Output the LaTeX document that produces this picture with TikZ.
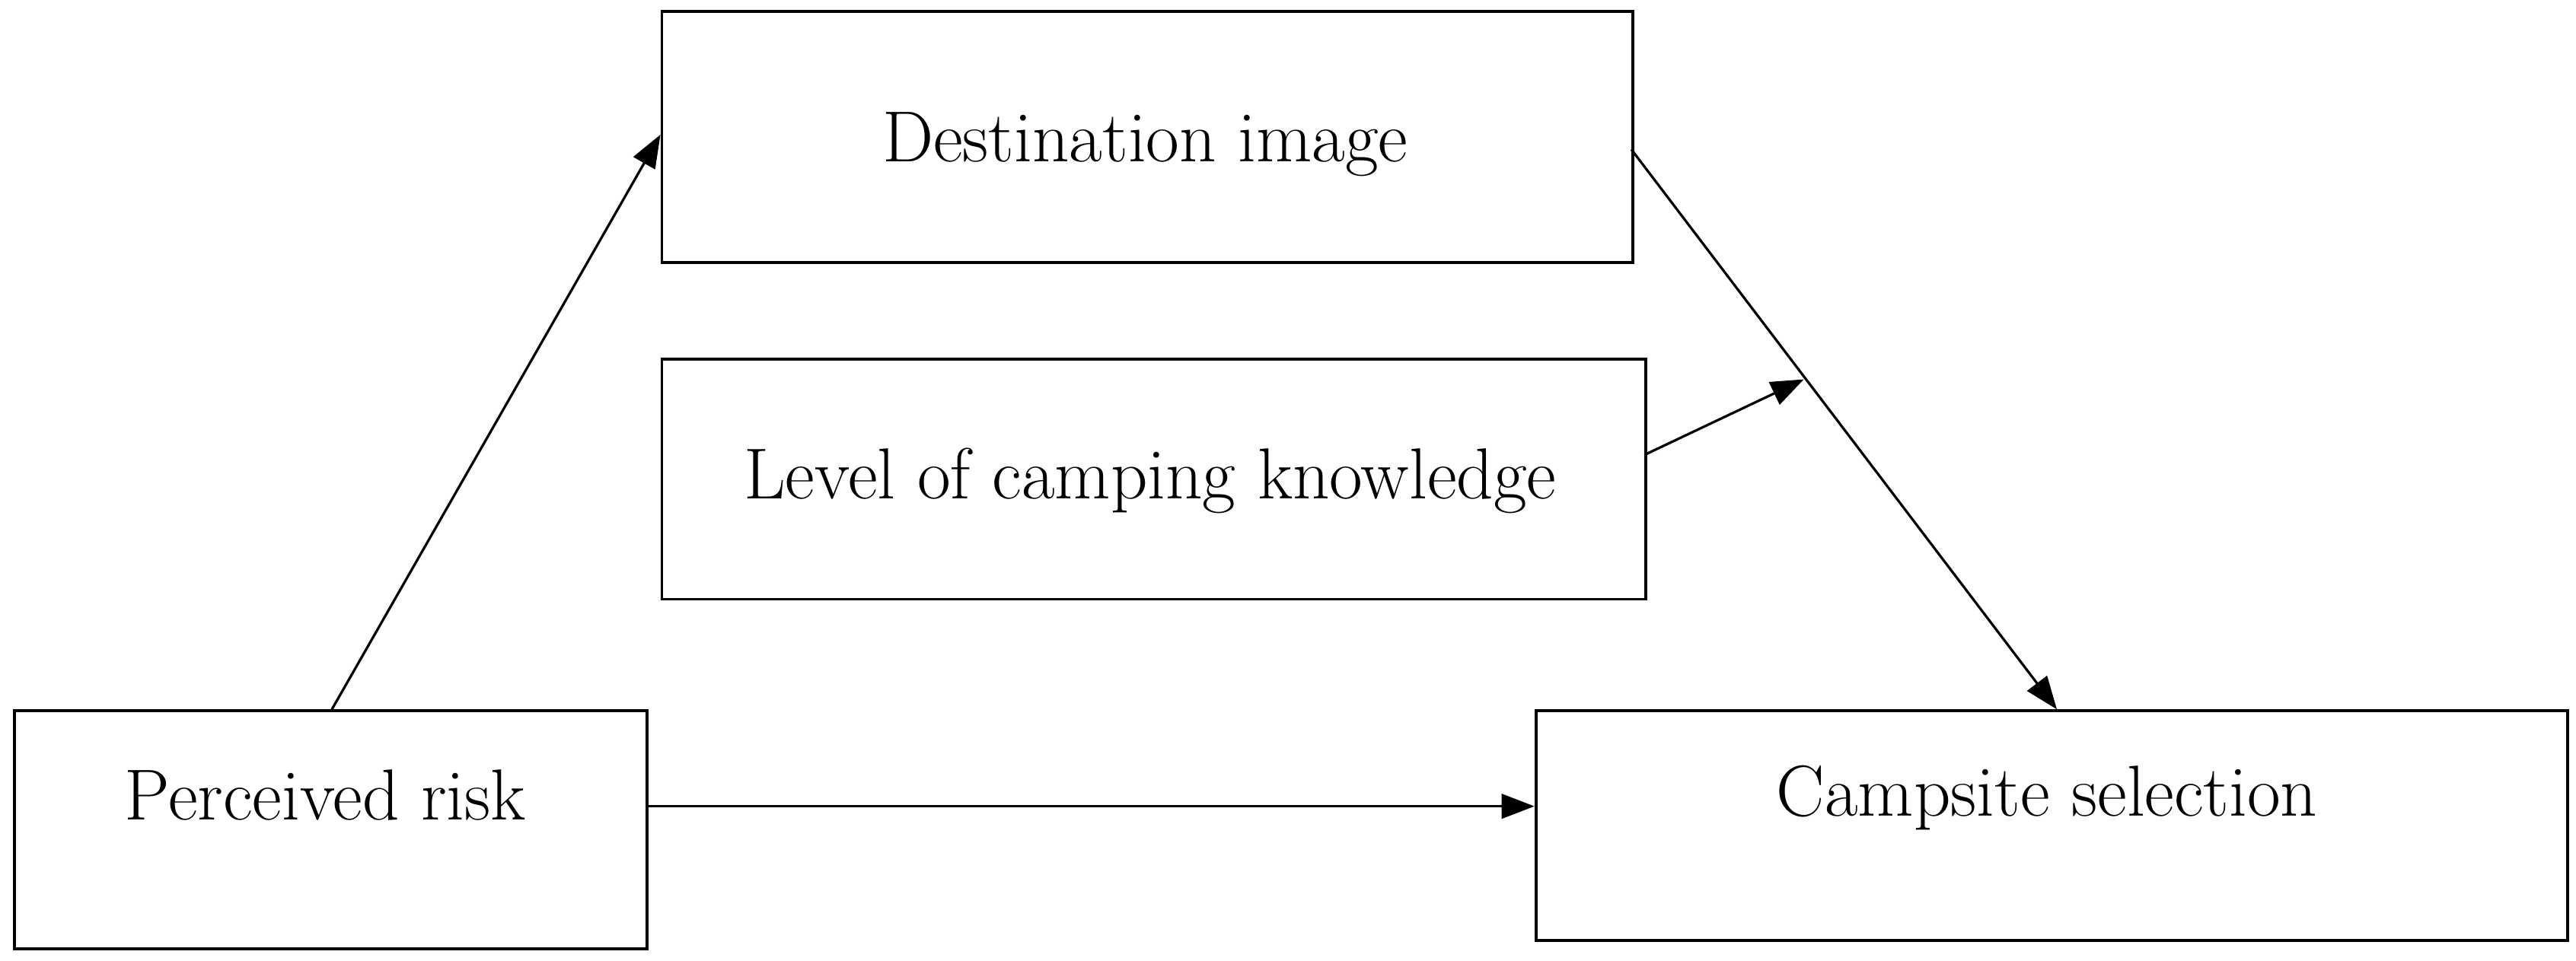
\documentclass[tikz,border=0pt]{standalone}
\usetikzlibrary{arrows.meta}
\begin{document}
\begin{tikzpicture}[x=1pt,y=-1pt,
  box/.style={draw,line width=1.8pt,inner sep=0pt,anchor=north west},
  lbl/.style={font=\fontsize{44}{52}\selectfont},
  conn/.style={line width=1.5pt,-{Triangle[length=20pt,width=15pt]}}]
\useasboundingbox (0,0) rectangle (1568,585);
\node[box,minimum width=591pt,minimum height=153pt] (dest) at (402,6) {};
\node[box,minimum width=599pt,minimum height=146pt] (lev) at (402,218) {};
\node[box,minimum width=385pt,minimum height=145pt] (risk) at (8,432) {};
\node[box,minimum width=628pt,minimum height=140pt] (camp) at (934,432) {};
\node[lbl] at (697,88) {Destination image};
\node[lbl] at (700,293) {Level of camping knowledge};
\node[lbl] at (198,484) {Perceived risk};
\node[lbl] at (1246,486) {Campsite selection};
\coordinate (a1) at (202,432);
\coordinate (a2) at (402,82);
\draw[conn] (a1) -- (a2);
\draw[conn] (risk.east |- 0,491) -- (camp.west |- 0,491);
\coordinate (b1) at (993,91);
\coordinate (b2) at (1252,432);
\draw[conn] (b1) -- (b2);
\coordinate (c1) at (1001,277);
\coordinate (c2) at (1098,231);
\draw[conn] (c1) -- (c2);
\end{tikzpicture}
\end{document}
